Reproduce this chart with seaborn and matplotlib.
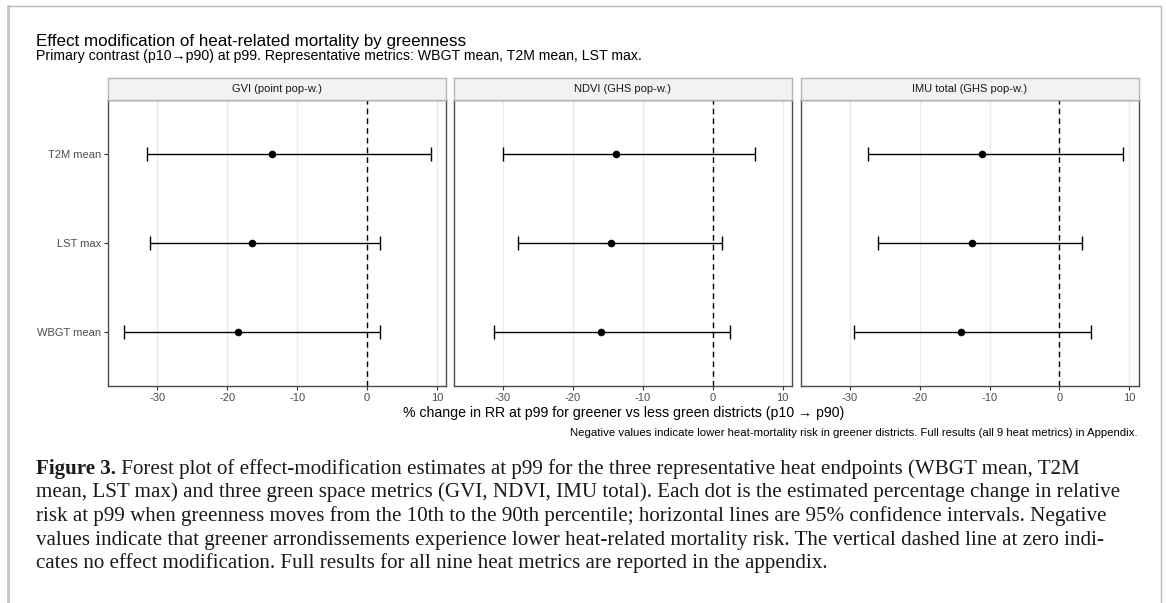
import numpy as np
import pandas as pd
import matplotlib
matplotlib.use("Agg")
import matplotlib.pyplot as plt
from matplotlib.lines import Line2D
import seaborn as sns

# ---------------- data ----------------
heat_metrics = ["T2M mean", "LST max", "WBGT mean"]
green_metrics = ["GVI (point pop-w.)", "NDVI (GHS pop-w.)", "IMU total (GHS pop-w.)"]

gvi_est = [-13.6, -16.4, -18.5]
gvi_lo = [-31.4, -31.1, -34.8]
gvi_hi = [9.2, 1.8, 1.9]

ndvi_est = [-13.8, -14.5, -16.0]
ndvi_lo = [-30.0, -27.9, -31.3]
ndvi_hi = [6.1, 1.3, 2.5]

imu_est = [-11.1, -12.5, -14.1]
imu_lo = [-27.4, -25.9, -29.4]
imu_hi = [9.1, 3.2, 4.5]

x_ticks = [-30, -20, -10, 0, 10]

title = "Effect modification of heat-related mortality by greenness"
subtitle = "Primary contrast (p10\u2192p90) at p99. Representative metrics: WBGT mean, T2M mean, LST max."
xlabel = "% change in RR at p99 for greener vs less green districts (p10 \u2192 p90)"
note = "Negative values indicate lower heat-mortality risk in greener districts. Full results (all 9 heat metrics) in Appendix."
fig_label = "Figure 3."
caption_lines = [
    " Forest plot of effect-modification estimates at p99 for the three representative heat endpoints (WBGT mean, T2M",
    "mean, LST max) and three green space metrics (GVI, NDVI, IMU total). Each dot is the estimated percentage change in relative",
    "risk at p99 when greenness moves from the 10th to the 90th percentile; horizontal lines are 95% confidence intervals. Negative",
    "values indicate that greener arrondissements experience lower heat-related mortality risk. The vertical dashed line at zero indi-",
    "cates no effect modification. Full results for all nine heat metrics are reported in the appendix.",
]

rows = []
for g, est, lo, hi in zip(green_metrics,
                          [gvi_est, ndvi_est, imu_est],
                          [gvi_lo, ndvi_lo, imu_lo],
                          [gvi_hi, ndvi_hi, imu_hi]):
    for h, e, l, u in zip(heat_metrics, est, lo, hi):
        rows.append({"green": g, "heat": h, "est": e, "lo": l, "hi": u})
df = pd.DataFrame(rows)
df["ypos"] = df["heat"].map({h: i for i, h in enumerate(heat_metrics)})

# ---------------- style ----------------
sns.set_theme(style="white")
plt.rcParams["font.family"] = ["Liberation Sans", "DejaVu Sans"]

W, H = 1166, 603
fig = plt.figure(figsize=(W / 100, H / 100), dpi=100)
fig.patch.set_facecolor("white")


def fx(x):
    return x / W


def fy(y):
    return 1 - y / H


renderer = fig.canvas.get_renderer()


def fit(t, target_px):
    w = t.get_window_extent(renderer=renderer).width
    t.set_fontsize(t.get_fontsize() * target_px / w)
    return t


# frame around the figure block
fig.add_artist(Line2D([fx(8), fx(8)], [fy(6), -0.05], color="#c6c6c6", lw=2.0))
fig.add_artist(Line2D([fx(8), fx(1161)], [fy(6), fy(6)], color="#b8b8b8", lw=1.0))
fig.add_artist(Line2D([fx(1161), fx(1161)], [fy(6), -0.05], color="#b8b8b8", lw=1.0))

# titles
t = fig.text(fx(36), fy(45.7), title, fontsize=11, color="black", ha="left", va="baseline")
fit(t, 429)
t = fig.text(fx(36), fy(60), subtitle, fontsize=8.5, color="black", ha="left", va="baseline")
fit(t, 605)

panel_left = [108.3, 454.0, 800.7]
pw, top, bottom = 338.0, 100.0, 386.0
strip_h = 21.7

for i, (g, L) in enumerate(zip(green_metrics, panel_left)):
    sub = df[df["green"] == g]
    ax = fig.add_axes([fx(L), fy(bottom), pw / W, (bottom - top) / H])
    ax.set_facecolor("white")
    ax.grid(axis="x", color="#ebebeb", lw=1.0)
    ax.grid(axis="y", visible=False)
    ax.set_axisbelow(True)
    ax.axvline(0, color="black", lw=1.0, ls=(0, (4, 3)), zorder=2)
    ax.errorbar(sub["est"], sub["ypos"],
                xerr=[sub["est"] - sub["lo"], sub["hi"] - sub["est"]],
                fmt="none", ecolor="black", elinewidth=1.0, capsize=5, capthick=1.0, zorder=3)
    sns.scatterplot(data=sub, x="est", y="ypos", ax=ax, color="black", s=30,
                    linewidth=0, zorder=4, legend=False)
    ax.set_xlim(-37.0, 11.33)
    ax.set_ylim(2.6, -0.6)
    ax.set_xticks(x_ticks)
    ax.set_xticklabels([str(v) for v in x_ticks])
    ax.set_yticks(range(len(heat_metrics)))
    if i == 0:
        ax.set_yticklabels(heat_metrics)
        ax.tick_params(axis="y", left=True, length=3, color="#333333", width=0.8,
                       labelsize=8, labelcolor="#4d4d4d", pad=2)
    else:
        ax.set_yticklabels([])
        ax.tick_params(axis="y", left=False, length=0)
    ax.tick_params(axis="x", bottom=True, length=3, color="#333333", width=0.8,
                   labelsize=8, labelcolor="#4d4d4d", pad=2)
    ax.set_xlabel("")
    ax.set_ylabel("")
    for s in ax.spines.values():
        s.set_color("#4d4d4d")
        s.set_linewidth(1.0)
    # strip
    sax = fig.add_axes([fx(L), fy(top), pw / W, strip_h / H])
    sax.set_facecolor("#f2f2f2")
    sax.set_xticks([])
    sax.set_yticks([])
    for s in sax.spines.values():
        s.set_color("#b5b5b5")
        s.set_linewidth(1.0)
    sax.text(0.5, 0.5, g, transform=sax.transAxes, ha="center", va="center",
             fontsize=8, color="#1a1a1a")

# axis label and note
t = fig.text(fx((108.3 + 1138.7) / 2), fy(412.7), xlabel, fontsize=9.5, color="black",
             ha="center", va="center")
fit(t, 439)
t = fig.text(fx(1138), fy(433), note, fontsize=7, color="black", ha="right", va="center")
fit(t, 565)

# figure caption (serif)
serif = ["Liberation Serif", "DejaVu Serif"]
probe = fig.text(0, 0, caption_lines[1], fontsize=14, family=serif)
w = probe.get_window_extent(renderer=renderer).width
cap_size = 14 * 1085 / w
probe.remove()

baselines = [474, 497.5, 521, 544.5, 568]
bold = fig.text(fx(35.7), fy(baselines[0]), fig_label, fontsize=cap_size, family=serif,
                weight="bold", ha="left", va="baseline", color="#1a1a1a")
bw = bold.get_window_extent(renderer=renderer).width
fig.text(fx(35.7 + bw), fy(baselines[0]), caption_lines[0], fontsize=cap_size, family=serif,
         ha="left", va="baseline", color="#1a1a1a")
for line, b in zip(caption_lines[1:], baselines[1:]):
    fig.text(fx(35.7), fy(b), line, fontsize=cap_size, family=serif,
             ha="left", va="baseline", color="#1a1a1a")

fig.savefig("out.png", dpi=100, facecolor="white")
